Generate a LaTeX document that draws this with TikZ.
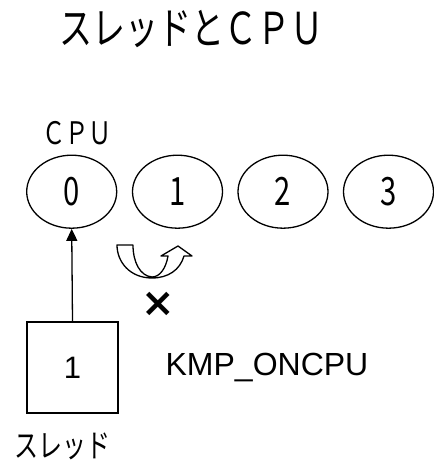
\documentclass[tikz,border=0pt]{standalone}
\usepackage{fontspec}
\newfontfamily\jpn[FakeStretch=0.75]{Noto Sans CJK JP}
\newfontfamily\arialf{Liberation Sans}
\newfontfamily\djf{DejaVu Sans}
\usetikzlibrary{arrows.meta,shapes.geometric}
\begin{document}
\begin{tikzpicture}[x=1pt,y=-1pt,
  cpu/.style={draw,line width=1.3pt,ellipse,minimum width=90pt,minimum height=73pt,inner sep=0pt,
    font=\jpn\fontsize{39}{39}\selectfont},
  threadbox/.style={draw,line width=1.3pt,minimum width=91pt,minimum height=91pt,inner sep=0pt,
    font=\arialf\fontsize{31}{31}\selectfont},
  lbl/.style={inner sep=0pt}]
\useasboundingbox (0,0) rectangle (433,462);
\node[lbl,font=\jpn\fontsize{44}{44}\selectfont] (title) at (191,29) {スレッドとＣＰＵ};
\node[lbl,font=\jpn\fontsize{31}{31}\selectfont] (cpulbl) at (77,133) {ＣＰＵ};
\node[cpu] (c0) at (71.7,191.7) {0};
\node[cpu] (c1) at (177.5,191.7) {1};
\node[cpu] (c2) at (283,191.7) {2};
\node[cpu] (c3) at (388.5,191.7) {3};
\node[threadbox] (t) at (72.5,367.5) {1};
\node[lbl,font=\jpn\fontsize{32}{32}\selectfont] (tlbl) at (62,446) {スレッド};
\node[lbl,font=\arialf\fontsize{32}{32}\selectfont] (kmp) at (267,368) {KMP\_ONCPU};
\node[lbl,font=\djf\bfseries\fontsize{40}{40}\selectfont] (x) at (158,304) {×};
\draw[line width=1.3pt,-{Triangle[length=12pt,width=11pt]}] (t.north) -- (c0.south);
\draw[line width=1.3pt,line join=round]
  (117,245) -- (133,245)
  .. controls (133,262) and (140,276) .. (152,277)
  .. controls (160,277) and (166,268) .. (168,256)
  -- (161,256) -- (178,246) -- (192,256) -- (184,256)
  .. controls (180,270) and (168,278) .. (152,278)
  .. controls (130,278) and (117,262) .. (117,245) -- cycle;
\end{tikzpicture}
\end{document}
